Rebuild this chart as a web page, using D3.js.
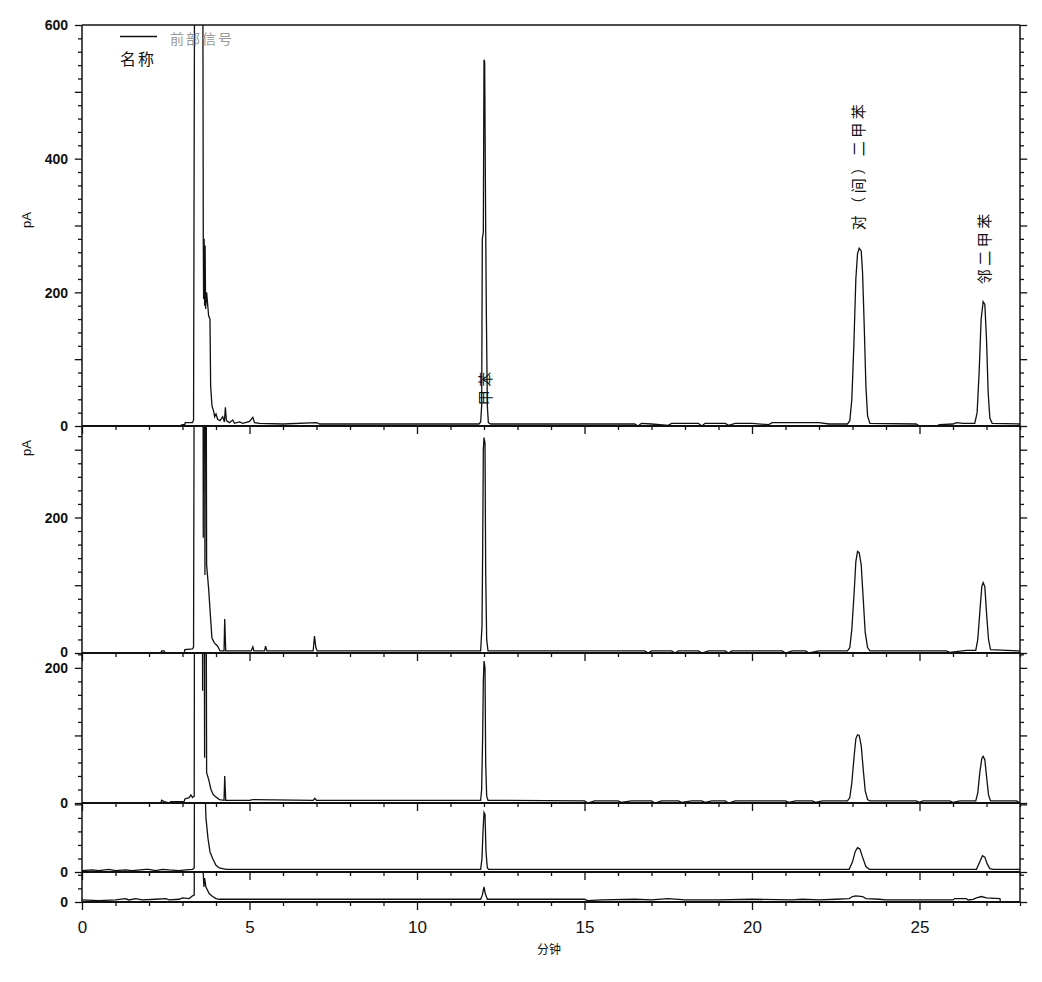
<!DOCTYPE html>
<html><head><meta charset="utf-8">
<script src="https://cdn.jsdelivr.net/npm/d3@7"></script>
<style>
body{margin:0;background:#fff;}
svg{display:block;}
.num{font-family:"Liberation Sans",Arial,sans-serif;fill:#111;}
.cjk{font-family:"Noto Sans CJK SC",sans-serif;}
</style></head>
<body>
<svg id="chart" width="1042" height="982"></svg>
<script>
// ---- data ----
const xTickLabels = [0, 5, 10, 15, 20, 25];
const timeRange = [0, 28];
const panelMax = [600, 335, 222, 102, 44];
const panelYLabels = [[0, 200, 400, 600], [0, 200], [0, 200], [0], [0]];
const yUnit = "pA";
const xTitle = "分钟";
const legendSignal = "前部信号";
const legendName = "名称";
const peakNames = ["甲苯", "对（间）二甲苯", "邻二甲苯"];
const peakLabelTimes = [12.0, 23.16, 26.91];
const peakLabelValues = [31, 293, 212];

const trace1 = [[0,0],[2.9,0],[3.0,2],[3.07,2],[3.08,5],[3.3,5],[3.33,9],[3.37,900],[3.6,900],[3.62,285],[3.63,190],[3.645,280],[3.66,180],[3.675,270],[3.69,175],[3.72,200],[3.78,165],[3.82,160],[3.84,60],[3.88,30],[3.93,22],[3.96,14],[4.0,18],[4.05,10],[4.12,8],[4.2,14],[4.25,6],[4.28,28],[4.31,8],[4.4,5],[4.5,9],[4.55,4],[4.7,6],[4.8,4],[5.0,7],[5.1,13],[5.15,5],[5.3,4],[6.0,3],[7.0,5],[7.1,3],[8,3],[10,3],[11.85,3],[11.9,6],[11.93,30],[11.95,280],[11.98,290],[12.0,548],[12.02,545],[12.05,300],[12.07,170],[12.1,30],[12.13,5],[12.2,3],[16.5,3],[16.6,0],[16.7,4],[17.0,3],[17.5,1],[17.6,4],[18.4,4],[18.5,0],[18.6,4],[19.2,4],[19.3,1],[19.5,4],[20.0,4],[20.5,2],[20.6,5],[22.0,5],[22.3,3],[22.85,3],[22.92,8],[22.98,40],[23.04,120],[23.1,220],[23.15,258],[23.2,266],[23.26,262],[23.3,230],[23.35,150],[23.4,60],[23.45,15],[23.52,4],[24.9,3],[25.0,0],[25.5,0],[25.6,2],[26.0,3],[26.1,5],[26.3,4],[26.65,4],[26.72,20],[26.78,80],[26.84,160],[26.9,186],[26.95,182],[27.0,130],[27.05,50],[27.1,12],[27.17,4],[28,3]];
const trace2 = [[0,0],[2.35,0],[2.38,3],[2.45,3],[2.48,0],[3.05,0],[3.07,5],[3.3,6],[3.33,9],[3.37,900],[3.6,900],[3.62,170],[3.64,900],[3.67,115],[3.69,900],[3.72,130],[3.78,95],[3.84,50],[3.88,22],[3.95,15],[4.05,10],[4.12,3],[4.24,3],[4.26,50],[4.29,3],[5.05,3],[5.1,9],[5.13,3],[5.45,3],[5.48,10],[5.52,3],[6.9,3],[6.94,25],[6.98,8],[7.02,3],[11.9,3],[11.94,40],[11.96,150],[11.98,300],[12.0,318],[12.03,310],[12.05,120],[12.08,20],[12.12,3],[16.8,3],[16.9,0],[17.0,3],[17.6,3],[17.7,0],[17.8,3],[18.4,3],[18.5,0],[18.7,3],[19.2,3],[19.3,0],[19.4,3],[20.9,3],[21.0,0],[21.2,3],[21.6,3],[21.7,0],[22.0,3],[22.85,3],[22.92,8],[22.98,35],[23.05,90],[23.1,135],[23.15,150],[23.2,148],[23.26,130],[23.32,80],[23.38,30],[23.45,8],[23.52,3],[25.8,3],[25.9,1],[26.4,4],[26.68,4],[26.74,20],[26.8,60],[26.86,98],[26.9,104],[26.95,98],[27.0,60],[27.06,20],[27.12,5],[28,3]];
const trace3 = [[0,0],[2.35,0],[2.38,4],[2.45,2],[2.6,0],[2.65,2],[3.05,2],[3.07,6],[3.2,8],[3.25,12],[3.3,8],[3.35,10],[3.37,900],[3.58,900],[3.6,166],[3.62,900],[3.66,67],[3.68,900],[3.72,45],[3.78,35],[3.85,20],[3.92,12],[4.0,9],[4.1,5],[4.24,4],[4.26,40],[4.29,4],[5.0,4],[5.1,5],[6.9,4],[6.95,7],[7.0,4],[11.9,4],[11.93,20],[11.96,100],[11.98,180],[12.0,210],[12.03,200],[12.05,60],[12.08,10],[12.12,4],[15.0,3],[15.1,0],[15.3,3],[16.0,3],[16.1,1],[16.4,3],[17.0,3],[17.1,0],[17.3,3],[17.8,3],[17.9,1],[18.2,3],[18.5,3],[18.6,1],[18.8,3],[19.2,3],[19.3,0],[19.5,3],[21.0,3],[21.1,1],[21.3,3],[21.8,3],[21.9,1],[22.1,3],[22.85,3],[22.92,8],[22.98,30],[23.05,70],[23.1,95],[23.15,101],[23.2,100],[23.26,85],[23.32,50],[23.38,18],[23.45,5],[23.52,3],[24.9,3],[25.0,1],[25.1,3],[25.9,3],[26.0,1],[26.2,3],[26.68,3],[26.74,15],[26.8,45],[26.86,66],[26.9,69],[26.95,64],[27.0,40],[27.06,12],[27.12,3],[27.9,3],[28,0]];
const trace4 = [[0,2],[0.3,3],[0.5,2],[0.8,4],[1.0,2],[1.3,3],[1.5,2],[1.9,4],[2.0,4],[2.2,2],[2.4,4],[2.6,3],[2.9,2],[3.1,3],[3.3,4],[3.35,6],[3.37,400],[3.6,400],[3.62,200],[3.7,80],[3.76,50],[3.82,30],[3.9,20],[4.0,10],[4.1,6],[4.3,4],[5,4],[11.9,4],[11.94,20],[11.97,60],[12.0,88],[12.03,85],[12.06,30],[12.1,6],[12.14,4],[22.9,4],[23.0,15],[23.08,30],[23.15,36],[23.22,34],[23.3,22],[23.4,8],[23.5,4],[26.7,4],[26.8,15],[26.88,24],[26.95,22],[27.02,12],[27.1,5],[27.2,4],[28,4]];
const trace5 = [[0,3],[0.5,2],[1.0,3],[1.3,5],[1.4,3],[1.6,5],[1.8,3],[2.2,4],[2.5,5],[2.6,3],[2.9,4],[3.0,6],[3.2,5],[3.3,9],[3.35,10],[3.37,400],[3.6,400],[3.62,40],[3.64,22],[3.66,35],[3.7,22],[3.8,12],[3.9,8],[4.0,5],[4.1,4],[5,4],[11.9,4],[11.95,10],[12.0,22],[12.04,12],[12.1,4],[15.0,4],[15.1,2],[15.5,3],[16.5,4],[17.0,3],[17.5,5],[18.0,3],[19.0,3],[20.0,4],[21.2,3],[21.5,4],[22.0,3],[22.5,4],[22.9,5],[23.0,8],[23.1,9],[23.3,8],[23.4,5],[23.8,4],[24.0,3],[25.5,3],[26.0,3],[26.05,5],[26.4,5],[26.45,3],[26.6,4],[26.7,6],[26.85,8],[27.0,6],[27.4,5],[27.42,0],[28,0]];
const traces = [trace1, trace2, trace3, trace4, trace5];

// ---- layout ----
const plotLeft = 82, plotRight = 1020, plotTop = 25;
const panelBottoms = [426, 653, 803, 872, 902];
const svg = d3.select("#chart");
const x = d3.scaleLinear().domain(timeRange).range([plotLeft, plotRight]);

const panels = panelMax.map((m, i) => {
  const y0 = panelBottoms[i];
  const y1 = i === 0 ? plotTop : panelBottoms[i - 1];
  return {max: m, bottom: y0, top: y1, y: d3.scaleLinear().domain([0, m]).range([y0, y1])};
});

const defs = svg.append("defs");
panels.forEach((p, i) => {
  defs.append("clipPath").attr("id", "clip" + i)
    .append("rect").attr("x", plotLeft).attr("y", p.top).attr("width", plotRight - plotLeft).attr("height", p.bottom - p.top);
});

// traces
panels.forEach((p, i) => {
  const line = d3.line().x(d => x(d[0])).y(d => p.y(d[1]));
  svg.append("path").datum(traces[i])
    .attr("clip-path", "url(#clip" + i + ")")
    .attr("d", line).attr("fill", "none").attr("stroke", "#111").attr("stroke-width", 1.3);
});

// axes per panel
panels.forEach((p, i) => {
  const minor = d3.range(0, p.max + 0.01, 20);
  const lAx = d3.axisLeft(p.y).tickValues(minor).tickSize(4).tickFormat("");
  const gl = svg.append("g").attr("transform", `translate(${plotLeft},0)`).call(lAx);
  const rAx = d3.axisRight(p.y).tickValues(minor).tickSize(4).tickFormat("");
  const gr = svg.append("g").attr("transform", `translate(${plotRight},0)`).call(rAx);
  [gl, gr].forEach(g => {
    g.select(".domain").remove();
    g.selectAll(".tick line").attr("stroke", "#111").attr("stroke-width", 1.3)
      .filter(d => d % 100 === 0).attr("x2", function(){ return +d3.select(this).attr("x2") * 1.8; });
  });
  const lab = d3.axisLeft(p.y).tickValues(panelYLabels[i]).tickSize(0).tickPadding(14);
  const gll = svg.append("g").attr("transform", `translate(${plotLeft},0)`).call(lab);
  gll.select(".domain").remove();
  gll.selectAll("text").attr("class", "num").attr("font-size", 14).attr("font-weight", "bold").attr("fill", "#111")
    .attr("dy", d => (d === 0 && i > 0 && i < 2) ? "0.25em" : "0.34em");

  const xAx = d3.axisBottom(x).tickValues(d3.range(0, 28.01, 1)).tickSize(4).tickFormat("");
  const gx = svg.append("g").attr("transform", `translate(0,${p.bottom})`).call(xAx);
  gx.select(".domain").remove();
  gx.selectAll(".tick line").attr("stroke", "#111").attr("stroke-width", 1.3)
    .filter(d => d % 5 === 0).attr("y2", 8);
  svg.append("line").attr("x1", plotLeft).attr("x2", plotRight).attr("y1", p.bottom).attr("y2", p.bottom)
    .attr("stroke", "#111").attr("stroke-width", 2);
});

// frame
svg.append("line").attr("x1", plotLeft).attr("x2", plotRight).attr("y1", plotTop).attr("y2", plotTop).attr("stroke", "#111").attr("stroke-width", 1.5);
svg.append("line").attr("x1", plotLeft).attr("x2", plotLeft).attr("y1", plotTop).attr("y2", panelBottoms[4]).attr("stroke", "#111").attr("stroke-width", 1.5);
svg.append("line").attr("x1", plotRight).attr("x2", plotRight).attr("y1", plotTop).attr("y2", panelBottoms[4]).attr("stroke", "#111").attr("stroke-width", 1.5);

// x labels
const xl = svg.append("g").attr("transform", `translate(0,${panelBottoms[4]})`)
  .call(d3.axisBottom(x).tickValues(xTickLabels).tickSize(0).tickPadding(19).tickFormat(d3.format("d")));
xl.select(".domain").remove();
xl.selectAll("text").attr("class", "num").attr("font-size", 17).attr("fill", "#111");

svg.append("text").attr("class", "cjk").attr("x", 549).attr("y", 954).attr("text-anchor", "middle")
  .attr("font-size", 12).attr("fill", "#111").text(xTitle);

[0, 1].forEach(i => {
  const cy = i === 0 ? 220 : 448;
  svg.append("text").attr("class", "num").attr("transform", `translate(26,${cy}) rotate(-90)`)
    .attr("text-anchor", "middle").attr("dominant-baseline", "central")
    .attr("font-size", 13).attr("fill", "#111").text(yUnit);
});

// legend
svg.append("line").attr("x1", 120).attr("x2", 157).attr("y1", 36.5).attr("y2", 36.5).attr("stroke", "#111").attr("stroke-width", 1.5);
svg.append("text").attr("class", "cjk").attr("x", 170).attr("y", 44).attr("font-size", 14)
  .attr("letter-spacing", 2).attr("fill", "#999").text(legendSignal);
svg.append("text").attr("class", "cjk").attr("x", 120).attr("y", 65).attr("font-size", 16)
  .attr("letter-spacing", 2).attr("fill", "#111").text(legendName);

// peak labels (panel 1)
peakNames.forEach((n, i) => {
  svg.append("text").attr("class", "cjk")
    .attr("transform", `translate(${x(peakLabelTimes[i])},${panels[0].y(peakLabelValues[i])}) rotate(-90)`)
    .attr("dominant-baseline", "central").attr("font-size", 15).attr("letter-spacing", 3.5)
    .attr("fill", "#111").text(n);
});
</script>
</body></html>
